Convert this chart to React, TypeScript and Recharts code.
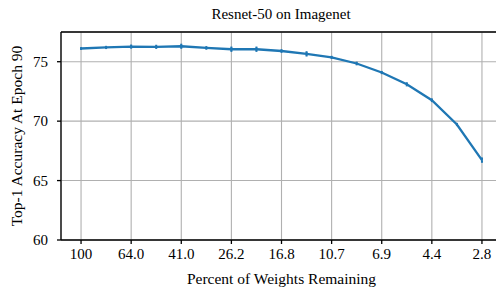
import React from 'react';
import {
  LineChart,
  Line,
  XAxis,
  YAxis,
  CartesianGrid,
  ErrorBar,
  ReferenceLine,
} from 'recharts';

// Percent of weights remaining at each pruning round
const percentRemaining = [
  '100', '80.0', '64.0', '51.2', '41.0', '32.8', '26.2', '21.0', '16.8',
  '13.4', '10.7', '8.6', '6.9', '5.5', '4.4', '3.5', '2.8',
];

// Top-1 accuracy at epoch 90
const accuracy = [
  76.11, 76.2, 76.27, 76.25, 76.3, 76.16, 76.05, 76.05, 75.9,
  75.66, 75.36, 74.85, 74.09, 73.1, 71.76, 69.72, 66.72,
];

// Error bar half-widths
const accuracyErr = [
  0.05, 0.06, 0.1, 0.1, 0.14, 0.08, 0.15, 0.15, 0.08,
  0.15, 0.06, 0.08, 0.06, 0.1, 0.08, 0.06, 0.15,
];

const xTicks = [0, 2, 4, 6, 8, 10, 12, 14, 16];
const yTicks = [60, 65, 70, 75];

const FONT = '"Liberation Serif", "DejaVu Serif", serif';
const BLUE = '#1f77b4';

const data = accuracy.map((acc, i) => ({
  idx: i,
  pct: percentRemaining[i],
  acc,
  err: accuracyErr[i],
}));

export default function App() {
  return (
    <div
      style={{
        position: 'absolute',
        left: 0,
        top: 0,
        width: 496,
        height: 288,
        overflow: 'hidden',
        background: '#fff',
        fontFamily: FONT,
      }}
    >
      <div
        style={{
          position: 'absolute',
          top: 6,
          left: 0,
          width: 562,
          textAlign: 'center',
          fontSize: 15,
          color: '#000',
        }}
      >
        Resnet-50 on Imagenet
      </div>
      <LineChart
        width={510}
        height={288}
        data={data}
        margin={{ top: 32, right: 8, bottom: 0, left: 21 }}
        style={{ fontFamily: FONT }}
      >
        <CartesianGrid stroke="#b0b0b0" strokeWidth={1.1} />
        <XAxis
          dataKey="idx"
          type="number"
          domain={[-0.8, 16.8]}
          ticks={xTicks}
          tickFormatter={(v: number) => percentRemaining[v]}
          height={48}
          tickSize={4}
          tickMargin={4}
          stroke="#000"
          strokeWidth={1.3}
          tick={{ fill: '#000', fontSize: 15, fontFamily: FONT }}
          label={{
            value: 'Percent of Weights Remaining',
            position: 'insideBottom',
            offset: 4,
            fill: '#000',
            fontSize: 15.5,
            fontFamily: FONT,
          }}
        />
        <YAxis
          type="number"
          domain={[60, 77.5]}
          ticks={yTicks}
          width={40}
          tickSize={4}
          tickMargin={9}
          stroke="#000"
          strokeWidth={1.3}
          tick={{ fill: '#000', fontSize: 15, fontFamily: FONT }}
          label={{
            content: (props: any) => {
              const vb = props.viewBox || { x: 21, y: 32, width: 40, height: 208 };
              const cx = 16;
              const cy = vb.y + vb.height / 2;
              return (
                <text
                  x={cx}
                  y={cy}
                  transform={`rotate(-90, ${cx}, ${cy})`}
                  textAnchor="middle"
                  dominantBaseline="central"
                  fill="#000"
                  fontSize={15.5}
                  fontFamily={FONT}
                >
                  Top-1 Accuracy At Epoch 90
                </text>
              );
            },
          }}
        />
        <ReferenceLine y={77.5} stroke="#000" strokeWidth={1.3} ifOverflow="visible" />
        <ReferenceLine x={16.8} stroke="#000" strokeWidth={1.3} ifOverflow="visible" />
        <Line
          type="linear"
          dataKey="acc"
          stroke={BLUE}
          strokeWidth={2.3}
          dot={false}
          activeDot={false}
          isAnimationActive={false}
        >
          <ErrorBar dataKey="err" direction="y" width={1} stroke={BLUE} strokeWidth={1.8} />
        </Line>
      </LineChart>
    </div>
  );
}
